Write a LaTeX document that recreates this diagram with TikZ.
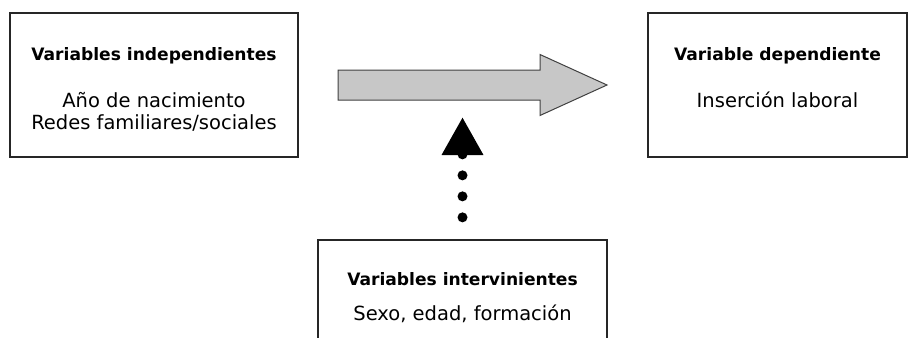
\documentclass[tikz,border=0pt]{standalone}
\usepackage{fontspec}
\setmainfont{DejaVu Sans}
\usetikzlibrary{arrows.meta,positioning}
\begin{document}
\begin{tikzpicture}[x=1pt,y=-1pt,
                    line width=1.3pt,
                    ]
    \tikzstyle{caja}=[draw=black!85,line width=1.3pt,inner sep=0pt]
    \tikzstyle{titulo}=[anchor=base,inner sep=0pt,font=\fontsize{17.1}{20}\selectfont\bfseries]
    \tikzstyle{texto}=[anchor=base,inner sep=0pt,font=\fontsize{19.5}{22}\selectfont]
    \tikzstyle{flechagris}=[draw=black!75,fill=black!22,line width=1pt,line join=miter]
    \tikzstyle{puntos}=[line width=10pt,line cap=round,dash pattern=on 0pt off 21pt,
        -{Triangle[length=38pt,width=39pt]}]

    \clip (0,0) rectangle (909,337);

    % cajas
    \node[caja,minimum width=288pt,minimum height=144pt] (indep) at (154,85) {};
    \node[caja,minimum width=259pt,minimum height=144pt] (dep) at (777.5,85) {};
    \node[caja,minimum width=289pt,minimum height=120pt] (inter) at (462.5,300) {};

    % textos
    \node[titulo] (indeptit) at (154,60) {Variables independientes};
    \node[texto] (indepa) at (154,107) {Año de nacimiento};
    \node[texto] (indepb) at (154,129) {Redes familiares/sociales};
    \node[titulo] (deptit) at (777.5,60) {Variable dependiente};
    \node[texto] (depa) at (777.5,107) {Inserción laboral};
    \node[titulo] (intertit) at (462.5,285) {Variables intervinientes};
    \node[texto] (intera) at (462.5,320) {Sexo, edad, formación};

    % flechas
    \coordinate (flechacola) at (338,85);
    \coordinate (flechapunta) at (607,85);
    \draw[flechagris] (flechacola) ++(0,-15) -- ++(202,0) -- ++(0,-15.5) -- (flechapunta)
        -- ++(-67,30.5) -- ++(0,-15.5) -- ++(-202,0) -- cycle;
    \path (inter.north) ++(0,-22) coordinate (puntoini);
    \coordinate (puntofin) at (462.5,117);
    \draw[puntos] (puntoini) -- (puntofin);
\end{tikzpicture}
\end{document}
